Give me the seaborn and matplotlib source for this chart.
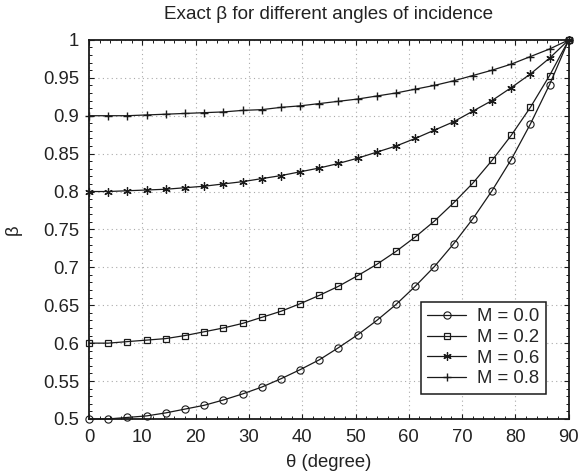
import numpy as np
import pandas as pd
import matplotlib
matplotlib.use("Agg")
import matplotlib.pyplot as plt
import seaborn as sns
from matplotlib.ticker import MultipleLocator

# ---- data ----
theta = [0, 3.6, 7.2, 10.8, 14.4, 18.0, 21.6, 25.2, 28.8, 32.4, 36.0, 39.6, 43.2,
         46.8, 50.4, 54.0, 57.6, 61.2, 64.8, 68.4, 72.0, 75.6, 79.2, 82.8, 86.4, 90.0]
beta_m00 = [0.500, 0.500, 0.502, 0.504, 0.508, 0.513, 0.518, 0.525, 0.533, 0.542, 0.553, 0.565, 0.578,
            0.594, 0.611, 0.630, 0.651, 0.675, 0.701, 0.731, 0.764, 0.801, 0.842, 0.889, 0.941, 1.000]
beta_m02 = [0.600, 0.600, 0.602, 0.604, 0.606, 0.610, 0.615, 0.620, 0.626, 0.634, 0.642, 0.652, 0.663,
            0.675, 0.689, 0.704, 0.721, 0.740, 0.761, 0.785, 0.811, 0.841, 0.874, 0.911, 0.953, 1.000]
beta_m06 = [0.800, 0.800, 0.801, 0.802, 0.803, 0.805, 0.807, 0.810, 0.813, 0.817, 0.821, 0.826, 0.831,
            0.837, 0.844, 0.852, 0.860, 0.870, 0.881, 0.892, 0.906, 0.920, 0.937, 0.955, 0.976, 1.000]
beta_m08 = [0.900, 0.900, 0.900, 0.901, 0.902, 0.903, 0.904, 0.905, 0.907, 0.908, 0.911, 0.913, 0.916,
            0.919, 0.922, 0.926, 0.930, 0.935, 0.940, 0.946, 0.953, 0.960, 0.968, 0.978, 0.988, 1.000]
labels = ["M = 0.0", "M = 0.2", "M = 0.6", "M = 0.8"]
x_ticks = [0, 10, 20, 30, 40, 50, 60, 70, 80, 90]
y_ticks = [0.5, 0.55, 0.6, 0.65, 0.7, 0.75, 0.8, 0.85, 0.9, 0.95, 1.0]
y_ticklabels = ["0.5", "0.55", "0.6", "0.65", "0.7", "0.75", "0.8", "0.85", "0.9", "0.95", "1"]

series = [beta_m00, beta_m02, beta_m06, beta_m08]

sns.set_style("ticks")
plt.rcParams["font.family"] = ["Liberation Sans", "DejaVu Sans"]

fig = plt.figure(figsize=(5.78, 4.75), dpi=100)
ax = fig.add_axes([0.154, 0.118, 0.830, 0.798])

ink = "#1a1a1a"
fs = 13.3
marker_list = ["o", "s", (6, 2, 0), "+"]
msize_list = [5.2, 3.8, 6.0, 5.5]
mew_list = [0.8, 0.9, 0.9, 1.0]
for s, lab, mk, ms, mw in zip(series, labels, marker_list, msize_list, mew_list):
    d = pd.DataFrame({"theta": theta, "beta": s})
    sns.lineplot(data=d, x="theta", y="beta", color=ink, marker=mk, markersize=ms,
                 markerfacecolor="none", markeredgecolor=ink, markeredgewidth=mw,
                 linewidth=0.9, label=lab, ax=ax, clip_on=False, zorder=3)

ax.set_xlim(0, 90)
ax.set_ylim(0.5, 1.0)
ax.set_xticks(x_ticks)
ax.set_yticks(y_ticks)
ax.set_yticklabels(y_ticklabels)
ax.xaxis.set_minor_locator(MultipleLocator(2))
ax.yaxis.set_minor_locator(MultipleLocator(0.01))
ax.tick_params(which="both", direction="in", top=True, right=True, colors=ink,
               labelsize=fs, labelcolor="#222222")
ax.tick_params(which="major", length=3.5, width=0.8)
ax.tick_params(which="minor", length=2.0, width=0.7)
ax.tick_params(axis="x", which="major", pad=7)
ax.tick_params(axis="y", which="major", pad=7)
ax.grid(True, which="major", linestyle=(0, (1, 3)), color="#aaaaaa", linewidth=0.8)
for sp in ax.spines.values():
    sp.set_color(ink)
    sp.set_linewidth(1.3)

ax.set_title("Exact \u03b2 for different angles of incidence", fontsize=13.6, color="#222222", pad=15)
ax.set_xlabel("\u03b8 (degree)", fontsize=fs, color="#222222", labelpad=6)
ax.set_ylabel("\u03b2", fontsize=fs, color="#222222", labelpad=15)

handles, labs = ax.get_legend_handles_labels()
leg = ax.legend(handles, labs, loc="lower right", bbox_to_anchor=(0.952, 0.066),
                fontsize=fs, frameon=True, fancybox=False, edgecolor=ink,
                handlelength=2.1, handletextpad=0.6, borderpad=0.35, labelspacing=0.2,
                borderaxespad=0)
leg.get_frame().set_linewidth(1.1)
leg.get_frame().set_alpha(1)
leg.set_zorder(5)

fig.savefig("out.png", dpi=100)
